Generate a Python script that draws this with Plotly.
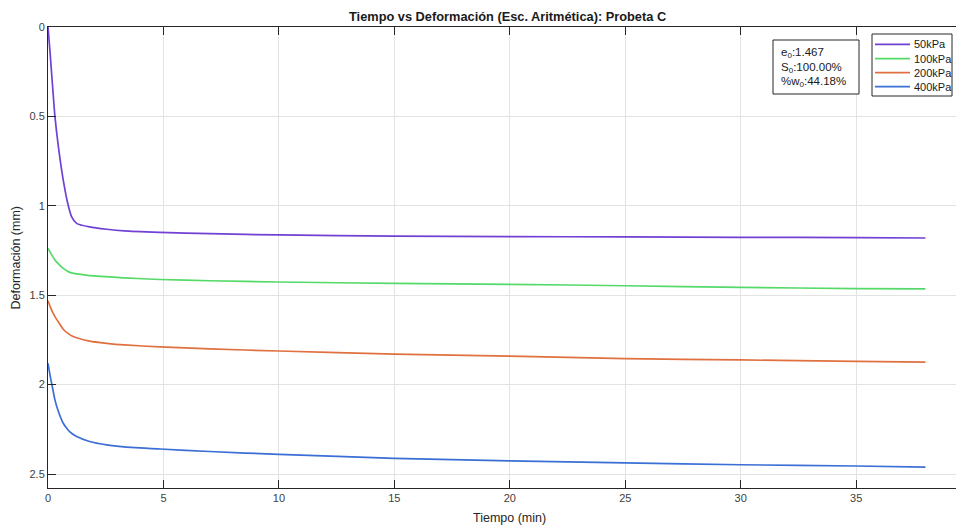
import plotly.graph_objects as go

tiempo = [0, 0.1, 0.2, 0.3, 0.45, 0.66, 0.88, 1.02, 1.24, 1.8, 2.54, 3.3, 4.85, 7, 10, 15, 20, 25, 30, 35, 38]
def_50 = [0, 0.16, 0.334, 0.5, 0.669, 0.856, 1.0, 1.06, 1.098, 1.118, 1.131, 1.14, 1.148, 1.156, 1.163, 1.169, 1.172, 1.174, 1.176, 1.178, 1.18]
def_100 = [1.238, 1.26, 1.283, 1.303, 1.325, 1.35, 1.368, 1.375, 1.381, 1.39, 1.396, 1.403, 1.412, 1.419, 1.426, 1.434, 1.439, 1.447, 1.456, 1.463, 1.465]
def_200 = [1.531, 1.565, 1.595, 1.62, 1.65, 1.69, 1.715, 1.727, 1.738, 1.757, 1.769, 1.778, 1.789, 1.8, 1.812, 1.829, 1.84, 1.855, 1.862, 1.87, 1.874]
def_400 = [1.881, 1.955, 2.02, 2.085, 2.15, 2.216, 2.255, 2.272, 2.29, 2.318, 2.337, 2.348, 2.36, 2.374, 2.39, 2.412, 2.426, 2.438, 2.448, 2.455, 2.461]

series_names = ["50kPa", "100kPa", "200kPa", "400kPa"]
series_vals = [def_50, def_100, def_200, def_400]
colors = ["#7041D4", "#55DA6A", "#E0703F", "#3B6FD6"]

title_text = "Tiempo vs Deformación (Esc. Aritmética): Probeta C"
info_lines = ["e<sub>0</sub>:1.467", "S<sub>0</sub>:100.00%", "%w<sub>0</sub>:44.18%"]
x_ticks = [0, 5, 10, 15, 20, 25, 30, 35]
y_ticks = [0, 0.5, 1, 1.5, 2, 2.5]
y_ticktext = ["0", "0.5", "1", "1.5", "2", "2.5"]

# layout geometry (figure sits at an 8px page offset)
FIG_W, FIG_H = 956, 524
ML, MT, MB = 40, 19, 44
PW, PH = FIG_W - ML, FIG_H - MT - MB


def px(xpage):
    return (xpage - 8 - ML) / PW


def py(ypage):
    return 1 - (ypage - 8 - MT) / PH


fig = go.Figure()
for name, vals, c in zip(series_names, series_vals, colors):
    fig.add_trace(go.Scatter(x=tiempo, y=vals, mode="lines", name=name, showlegend=False,
                             line=dict(color=c, width=1.7, shape="spline", smoothing=0.6)))

font = "Liberation Sans, Arial, sans-serif"
axis_common = dict(showline=True, linecolor="#262626", linewidth=1,
                   ticks="inside", ticklen=8, tickcolor="#262626",
                   showgrid=True, gridcolor="#e3e3e3", gridwidth=1,
                   zeroline=False, tickfont=dict(size=11, color="#404040", family=font))

shapes = []
annotations = [
    dict(x=px(508), y=py(8), xref="paper", yref="paper", text="<b>" + title_text + "</b>",
         showarrow=False, xanchor="center", yanchor="top", borderpad=0,
         font=dict(size=12.8, color="#1a1a1a", family=font)),
    dict(x=20, y=-30 / PH, xref="x", yref="paper", text="Tiempo (min)", showarrow=False,
         yanchor="middle", font=dict(size=12.5, color="#262626", family=font)),
    dict(x=px(15), y=0.5, xref="paper", yref="paper", text="Deformación (mm)", showarrow=False,
         textangle=-90, xanchor="center", yanchor="middle",
         font=dict(size=12.5, color="#262626", family=font)),
]

# info box
shapes.append(dict(type="rect", xref="paper", yref="paper", x0=px(773), x1=px(859), y0=py(94), y1=py(40),
                   line=dict(color="#262626", width=1), fillcolor="white", layer="above"))
for line_txt, yy in zip(info_lines, [53, 67.5, 82]):
    annotations.append(dict(x=px(779), y=py(yy), xref="paper", yref="paper", text=line_txt,
                            showarrow=False, xanchor="left", yanchor="middle",
                            font=dict(size=11.5, color="#1a1a1a", family=font)))

# legend box
shapes.append(dict(type="rect", xref="paper", yref="paper", x0=px(872), x1=px(952), y0=py(96), y1=py(34),
                   line=dict(color="#262626", width=1), fillcolor="white", layer="above"))
leg_y = [44.3, 58.7, 72.7, 86.7]
for name, c, yy in zip(series_names, colors, leg_y):
    shapes.append(dict(type="line", xref="paper", yref="paper", x0=px(875), x1=px(910), y0=py(yy), y1=py(yy),
                       line=dict(color=c, width=1.7), layer="above"))
    annotations.append(dict(x=px(912), y=py(yy), xref="paper", yref="paper", text=name, showarrow=False,
                            xanchor="left", yanchor="middle",
                            font=dict(size=11, color="#1a1a1a", family=font)))

fig.update_layout(
    width=FIG_W, height=FIG_H,
    margin=dict(l=ML, r=0, t=MT, b=MB),
    paper_bgcolor="white", plot_bgcolor="white",
    showlegend=False,
    xaxis=dict(range=[0, 39.67], tickvals=x_ticks, mirror="ticks", **axis_common),
    yaxis=dict(range=[2.578, 0], tickvals=y_ticks, ticktext=y_ticktext, **axis_common),
    shapes=shapes,
    annotations=annotations,
)

fig.write_html("out.html")
